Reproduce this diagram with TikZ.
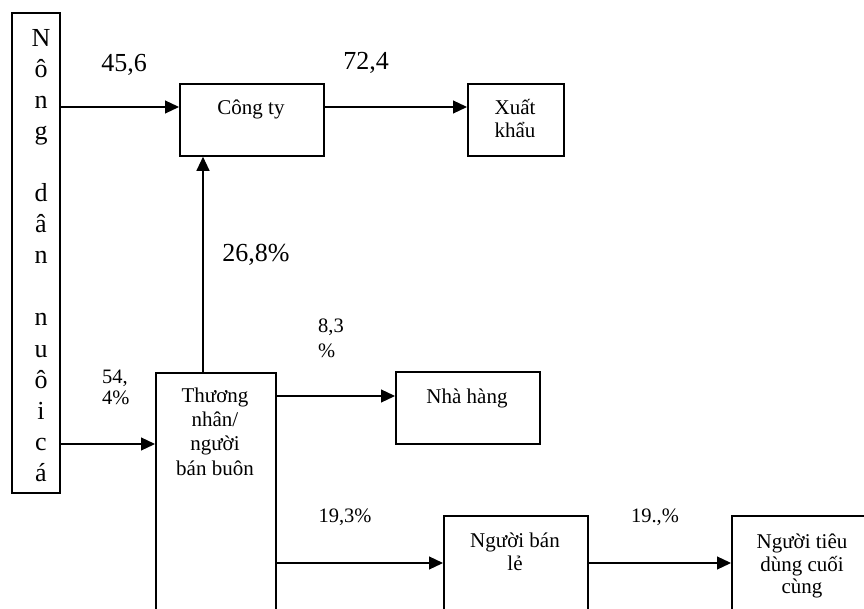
\documentclass[tikz,border=0pt]{standalone}
\usepackage{fontspec}
\setmainfont{Liberation Serif}
\usetikzlibrary{arrows.meta}
\begin{document}
\begin{tikzpicture}[x=1pt,y=-1pt,
 box/.style={draw, line width=1.8pt, inner sep=0pt, anchor=north west},
 arr/.style={line width=1.2pt, -{Triangle[length=14pt,width=13pt]}},
 big/.style={font=\fontsize{26}{31}\selectfont, inner sep=0pt, anchor=base},
 txt/.style={font=\fontsize{21}{24}\selectfont, inner sep=0pt, anchor=base},
 sm/.style={font=\fontsize{20.5}{24}\selectfont, inner sep=0pt, anchor=base west}]
\useasboundingbox (0,0) rectangle (864,609);
\clip (0,0) rectangle (864,609);
% boxes
\node[box, minimum width=48pt, minimum height=480pt] (farmer) at (11,12) {};
\node[box, minimum width=144pt, minimum height=72pt] (congty) at (179,83) {};
\node[box, minimum width=96pt, minimum height=72pt] (xuat) at (467,83) {};
\node[box, minimum width=120pt, minimum height=300pt] (trader) at (155,372) {};
\node[box, minimum width=144pt, minimum height=72pt] (nhahang) at (395,371) {};
\node[box, minimum width=144pt, minimum height=150pt] (retail) at (443,515) {};
\node[box, minimum width=142pt, minimum height=150pt] (consumer) at (731,515) {};
% left column text
\foreach \i/\l in {0/N,1/ô,2/n,3/g,5/d,6/â,7/n,9/n,10/u,11/ô,12/i,13/c,14/á}
  \node[big] (col\i) at (41,47+31*\i) {\l};
% box texts
\node[txt] (tcongty) at (251,115) {Công ty};
\node[txt] (txuat1) at (515,115) {Xuất};
\node[txt] (txuat2) at (515,138) {khẩu};
\node[txt] (tnha) at (467,403) {Nhà hàng};
\node[txt] (ttr1) at (215,402) {Thương};
\node[txt] (ttr2) at (215,426) {nhân/};
\node[txt] (ttr3) at (215,450) {người};
\node[txt] (ttr4) at (215,475) {bán buôn};
\node[txt] (tre1) at (515,547) {Người bán};
\node[txt] (tre2) at (515,570) {lẻ};
\node[txt] (tco1) at (802,548) {Người tiêu};
\node[txt] (tco2) at (802,571) {dùng cuối};
\node[txt] (tco3) at (802,593) {cùng};
% arrow levels
\coordinate (r1) at (0,107);
\coordinate (r2) at (0,444);
\coordinate (r3) at (0,396);
\coordinate (r4) at (0,563);
\coordinate (cv) at (203,0);
\draw[arr] (farmer.east |- r1) -- (congty.west |- r1);
\draw[arr] (congty.east |- r1) -- (xuat.west |- r1);
\draw[arr] (farmer.east |- r2) -- (trader.west |- r2);
\draw[arr] (trader.east |- r3) -- (nhahang.west |- r3);
\draw[arr] (trader.east |- r4) -- (retail.west |- r4);
\draw[arr] (retail.east |- r4) -- (consumer.west |- r4);
\draw[arr] (trader.north -| cv) -- (congty.south -| cv);
% labels
\node[big] (l456) at (124,72) {45,6};
\node[big] (l724) at (366,70) {72,4};
\node[big] (l268) at (256,262) {26,8\%};
\node[sm] (l54a) at (102,383) {54,};
\node[sm] (l54b) at (102,404) {4\%};
\node[sm] (l83a) at (318,333) {8,3};
\node[sm] (l83b) at (318,357) {\%};
\node[sm, anchor=base] (l193) at (345,522) {19,3\%};
\node[sm, anchor=base] (l19) at (655,522) {19.,\%};
\end{tikzpicture}
\end{document}
